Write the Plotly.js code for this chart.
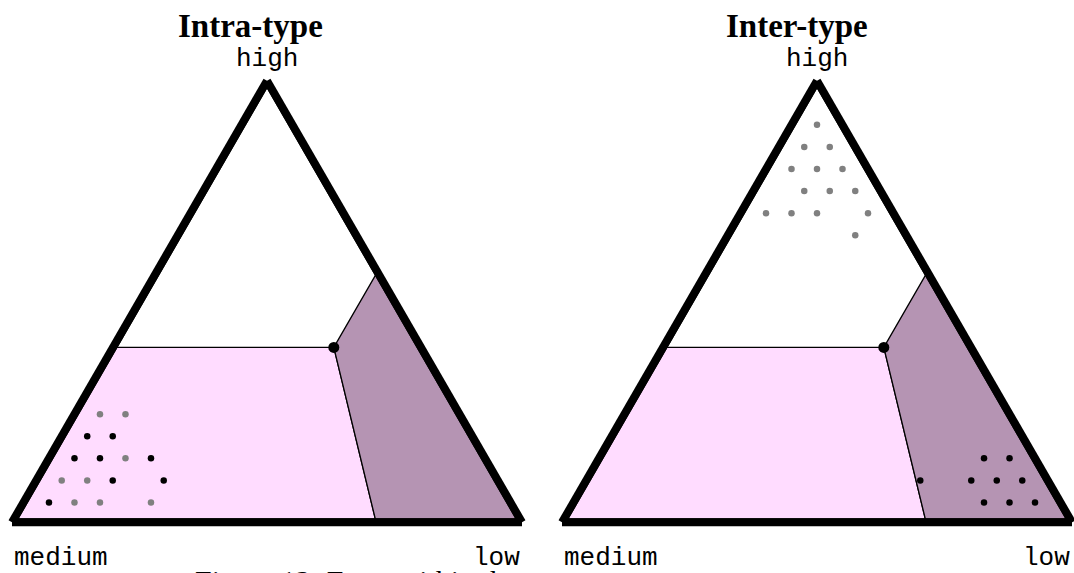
<!DOCTYPE html>
<html>
<head>
<meta charset="utf-8">
<script src="https://cdn.plot.ly/plotly-3.0.1.min.js"></script>
<style>
  html, body { margin: 0; padding: 0; background: #fff; }
  #plot { width: 1074px; height: 573px; }
</style>
</head>
<body>
<div id="plot"></div>
<script>
// panel titles and corner labels
var panelTitles = ['Intra-type', 'Inter-type'];
var cornerTop = 'high';
var cornerLeft = 'medium';
var cornerRight = 'low';
var caption = 'Figure 12: Facts within the types';

// partition point (high, medium, low)
var splitHigh = 0.396;
var splitLow = 0.433;
var splitMedium = 1 - splitHigh - splitLow;
var bottomLow = 0.714;   // where the pink/mauve border meets the base

// region polygons, ternary fractions
var pinkHigh = [splitHigh, splitHigh, 0, 0, splitHigh];
var pinkMedium = [1 - splitHigh, splitMedium, 1 - bottomLow, 1, 1 - splitHigh];
var pinkLow = [0, splitLow, bottomLow, 0, 0];

var mauveHigh = [splitHigh, 1 - splitLow, 0, 0, splitHigh];
var mauveMedium = [splitMedium, 0, 0, 1 - bottomLow, splitMedium];
var mauveLow = [splitLow, splitLow, 1, bottomLow, splitLow];

// triangle outline
var edgeHigh = [1, 0, 0, 1];
var edgeMedium = [0, 1, 0, 0];
var edgeLow = [0, 0, 1, 0];

// Intra-type points
var intraGrayHigh = [0.245, 0.245, 0.145, 0.095, 0.095, 0.045, 0.045, 0.045];
var intraGrayLow  = [0.05, 0.10, 0.15, 0.05, 0.10, 0.10, 0.15, 0.25];
var intraBlackHigh = [0.195, 0.195, 0.145, 0.145, 0.145, 0.095, 0.095, 0.045];
var intraBlackLow  = [0.05, 0.10, 0.05, 0.10, 0.20, 0.15, 0.25, 0.05];

// Inter-type points
var interGrayHigh = [0.90, 0.85, 0.85, 0.80, 0.80, 0.80, 0.75, 0.75, 0.75, 0.70, 0.70, 0.70, 0.70, 0.65];
var interGrayLow  = [0.05, 0.05, 0.10, 0.05, 0.10, 0.15, 0.10, 0.15, 0.20, 0.05, 0.10, 0.15, 0.25, 0.25];
var interBlackHigh = [0.145, 0.145, 0.095, 0.095, 0.095, 0.095, 0.045, 0.045, 0.045];
var interBlackLow  = [0.755, 0.805, 0.655, 0.755, 0.805, 0.855, 0.805, 0.855, 0.905];

function rest(h, l) {
    return h.map(function(v, i) { return 1 - v - l[i]; });
}

function panelTraces(sub, grayH, grayL, blackH, blackL) {
    var base = {type: 'scatterternary', subplot: sub, hoverinfo: 'skip', showlegend: false};
    return [
        Object.assign({}, base, {
            a: pinkHigh, b: pinkMedium, c: pinkLow, mode: 'lines', fill: 'toself',
            fillcolor: '#ffdcff', line: {color: '#000', width: 1.3}
        }),
        Object.assign({}, base, {
            a: mauveHigh, b: mauveMedium, c: mauveLow, mode: 'lines', fill: 'toself',
            fillcolor: '#b594b3', line: {color: '#000', width: 1.3}
        }),
        Object.assign({}, base, {
            a: grayH, b: rest(grayH, grayL), c: grayL, mode: 'markers',
            marker: {color: '#808080', size: 6.5}
        }),
        Object.assign({}, base, {
            a: blackH, b: rest(blackH, blackL), c: blackL, mode: 'markers',
            marker: {color: '#000', size: 6.5}
        }),
        Object.assign({}, base, {
            a: edgeHigh, b: edgeMedium, c: edgeLow, mode: 'lines', cliponaxis: false,
            line: {color: '#000', width: 8}
        }),
        Object.assign({}, base, {
            a: [splitHigh], b: [splitMedium], c: [splitLow], mode: 'markers',
            marker: {color: '#000', size: 11}
        })
    ];
}

var data = panelTraces('ternary', intraGrayHigh, intraGrayLow, intraBlackHigh, intraBlackLow)
    .concat(panelTraces('ternary2', interGrayHigh, interGrayLow, interBlackHigh, interBlackLow));

var axisTemplate = {
    showgrid: false,
    showline: true,
    linecolor: '#000',
    linewidth: 8,
    showticklabels: false,
    ticks: '',
    title: {text: ''}
};

function ternaryLayout(x0, x1) {
    return {
        domain: {x: [x0, x1], y: [0.0884, 0.8592]},
        bgcolor: 'rgba(0,0,0,0)',
        aaxis: axisTemplate,
        baxis: axisTemplate,
        caxis: axisTemplate
    };
}

var mono = {family: 'Liberation Mono, Courier New, monospace', size: 26, color: '#000'};
var serifBold = {family: 'Liberation Serif, Times New Roman, serif', size: 33, color: '#000'};

var annotations = [];
var titleCenters = [250 / 1074, 797 / 1074];
var centers = [267 / 1074, 817 / 1074];
var lefts = [12 / 1074, 562 / 1074];
var rights = [522 / 1074, 1072 / 1074];
for (var i = 0; i < 2; i++) {
    annotations.push({text: '<b>' + panelTitles[i] + '</b>', x: titleCenters[i], y: 0.955,
        xref: 'paper', yref: 'paper', showarrow: false, font: serifBold,
        xanchor: 'center', yanchor: 'middle'});
    annotations.push({text: cornerTop, x: centers[i], y: 0.897,
        xref: 'paper', yref: 'paper', showarrow: false, font: mono,
        xanchor: 'center', yanchor: 'middle'});
    annotations.push({text: cornerLeft, x: lefts[i], y: 0.027,
        xref: 'paper', yref: 'paper', showarrow: false, font: mono, xanchor: 'left', yanchor: 'middle'});
    annotations.push({text: cornerRight, x: rights[i], y: 0.027,
        xref: 'paper', yref: 'paper', showarrow: false, font: mono, xanchor: 'right', yanchor: 'middle'});
}
annotations.push({text: caption, x: 193 / 1074, y: 0.02, xref: 'paper', yref: 'paper',
    showarrow: false, xanchor: 'left', yanchor: 'top',
    font: {family: 'Liberation Serif, serif', size: 30, color: '#000'}});

var layout = {
    width: 1074,
    height: 573,
    margin: {l: 0, r: 0, t: 0, b: 0},
    paper_bgcolor: '#fff',
    showlegend: false,
    ternary: ternaryLayout(12 / 1074, 522 / 1074),
    ternary2: ternaryLayout(562 / 1074, 1072 / 1074),
    annotations: annotations
};

Plotly.newPlot('plot', data, layout, {displayModeBar: false, staticPlot: true});
</script>
</body>
</html>
